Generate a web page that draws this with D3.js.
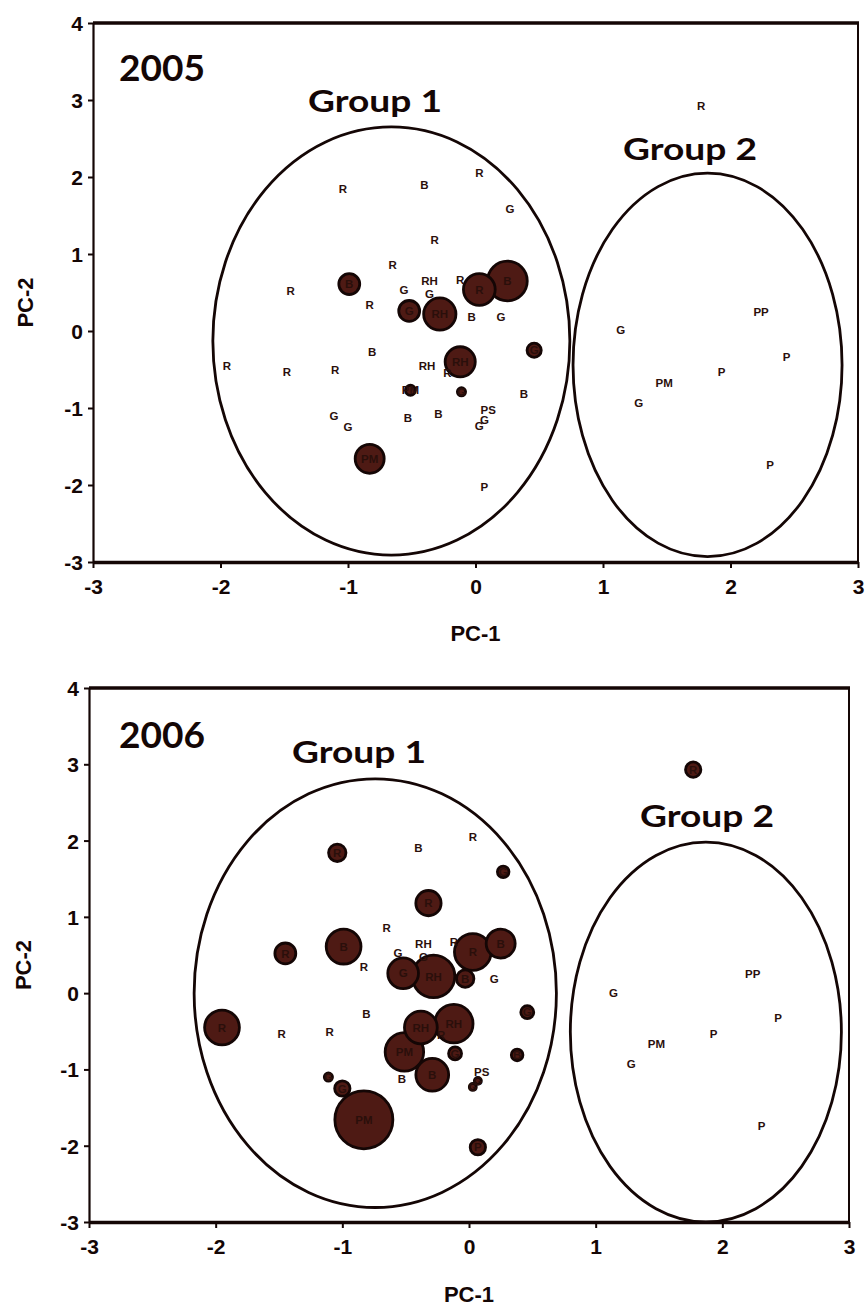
<!DOCTYPE html>
<html>
<head>
<meta charset="utf-8">
<script src="https://cdn.jsdelivr.net/npm/d3@7"></script>
<style>
  html, body { margin: 0; padding: 0; background: #ffffff; }
  svg { display: block; }
</style>
</head>
<body>
<svg id="chart" width="868" height="1307"></svg>
<script>
// ---------------- DATA ----------------
// Site labels and PCA scores (same ordination in both years)
const siteLabels = ["R","R","B","R","G","R","R","R","B","G","RH","G","R","G","RH","R","R","B","B","G","B","G",
                    "R","R","R","RH","RH","R","PM","G","B","G","G","B","B","PS","G","G","PM","P",
                    "G","PP","P","P","PM","G","P"];
const pc1 = [1.77,-1.04,-0.40,0.03,0.27,-0.32,-0.65,-1.45,-0.99,-0.56,-0.36,-0.36,-0.83,-0.52,-0.28,-0.12,0.03,0.25,-0.03,0.20,-0.81,0.46,
             -1.95,-1.48,-1.10,-0.38,-0.12,-0.22,-0.51,-0.11,0.38,-1.11,-1.00,-0.53,-0.29,0.10,0.07,0.03,-0.83,0.07,
             1.14,2.24,2.44,1.93,1.48,1.28,2.31];
const pc2 = [2.93,1.84,1.90,2.05,1.59,1.18,0.86,0.52,0.61,0.53,0.65,0.48,0.34,0.26,0.22,0.67,0.54,0.65,0.19,0.19,-0.27,-0.25,
             -0.45,-0.53,-0.51,-0.45,-0.40,-0.55,-0.77,-0.79,-0.81,-1.10,-1.25,-1.13,-1.07,-1.03,-1.15,-1.23,-1.66,-2.02,
             0.01,0.25,-0.33,-0.53,-0.67,-0.93,-1.74];
// Bubble values per year (0 = no bubble)
const value2005 = [0,0,0,0,0,0,0,0,13,0,0,0,0,13,31,0,30,47,0,0,0,6,
                   0,0,0,0,27,0,3,2,0,0,0,0,0,0,0,0,25,0,
                   0,0,0,0,0,0,0];
const value2006 = [7,9,0,0,4,19,0,13,36,0,0,0,0,28,54,0,40,25,9,0,0,5,
                   36,0,0,32,44,0,44,5,4,2,7,0,32,0,1,1,100,7,
                   0,0,0,0,0,0,0];
// Group ellipses (centre and semi-axes in PC units)
const groupNames = ["Group 1","Group 2"];
const ell2005 = { cx: [-0.66, 1.82], cy: [-0.13, -0.44], rx: [1.40, 1.055], ry: [2.78, 2.49] };
const ell2006 = { cx: [-0.74, 1.87], cy: [0.00, -0.51], rx: [1.43, 1.07], ry: [2.81, 2.49] };
const years = ["2005","2006"];
const xTicks = [-3,-2,-1,0,1,2,3];
const yTicks = [-3,-2,-1,0,1,2,3,4];

// ---------------- DRAW ----------------
const svg = d3.select("#chart");
const ink = "#140605";
const bubbleFill = "#4e1a14";

const panels = [
  { year: years[0], values: value2005, ell: ell2005,
    x0: 93, x1: 858, yTop: 23, yBot: 562,
    yearPos: [119, 81], groupPos: [[375, 112], [690, 160]], pc1Y: 641, pc2X: 33 },
  { year: years[1], values: value2006, ell: ell2006,
    x0: 89, x1: 849, yTop: 688, yBot: 1222,
    yearPos: [119, 748], groupPos: [[359, 763], [707, 827]], pc1Y: 1302, pc2X: 31 }
];

const rScale = d3.scaleSqrt().domain([0, 100]).range([0, 29]);

panels.forEach(p => {
  const x = d3.scaleLinear().domain([-3, 3]).range([p.x0, p.x1]);
  const y = d3.scaleLinear().domain([-3, 4]).range([p.yBot, p.yTop]);
  const g = svg.append("g");

  // frame
  g.append("line").attr("x1", p.x0).attr("x2", p.x1 + 1).attr("y1", p.yTop).attr("y2", p.yTop)
    .attr("stroke", ink).attr("stroke-width", 3.4);
  g.append("line").attr("x1", p.x1).attr("x2", p.x1).attr("y1", p.yTop).attr("y2", p.yBot)
    .attr("stroke", ink).attr("stroke-width", 2);

  // axes
  const fmt = d => String(d);
  const xAxis = d3.axisBottom(x).tickValues(xTicks).tickFormat(fmt).tickSize(6).tickSizeOuter(0);
  const yAxis = d3.axisLeft(y).tickValues(yTicks).tickFormat(fmt).tickSize(5).tickSizeOuter(0);
  const gx = g.append("g").attr("transform", `translate(0,${p.yBot})`).call(xAxis);
  const gy = g.append("g").attr("transform", `translate(${p.x0},0)`).call(yAxis);
  gx.select(".domain").attr("stroke", ink).attr("stroke-width", 3.4);
  gy.select(".domain").attr("stroke", ink).attr("stroke-width", 2.2);
  [gx, gy].forEach(a => {
    a.selectAll(".tick line").attr("stroke", ink).attr("stroke-width", 2);
    a.selectAll(".tick text").attr("fill", ink)
      .style("font-family", "'Liberation Sans', Arial, sans-serif")
      .style("font-weight", "bold").style("font-size", "21px");
  });
  gx.selectAll(".tick text").attr("dy", "1.1em");
  gy.selectAll(".tick text").attr("x", -10).attr("dy", "0.36em");

  // axis titles
  g.append("text").attr("x", (p.x0 + p.x1) / 2).attr("y", p.pc1Y)
    .attr("text-anchor", "middle").attr("fill", ink)
    .style("font-family", "'Liberation Sans', Arial, sans-serif")
    .style("font-weight", "bold").style("font-size", "22px").text("PC-1");
  g.append("text").attr("transform", `translate(${p.pc2X},${(p.yTop + p.yBot) / 2 + 10}) rotate(-90)`)
    .attr("text-anchor", "middle").attr("fill", ink)
    .style("font-family", "'Liberation Sans', Arial, sans-serif")
    .style("font-weight", "bold").style("font-size", "22px").text("PC-2");

  // group ellipses
  groupNames.forEach((name, i) => {
    g.append("ellipse")
      .attr("cx", x(p.ell.cx[i])).attr("cy", y(p.ell.cy[i]))
      .attr("rx", x(p.ell.rx[i]) - x(0)).attr("ry", y(0) - y(p.ell.ry[i]))
      .attr("fill", "none").attr("stroke", ink).attr("stroke-width", 2.8);
    g.append("text").attr("x", p.groupPos[i][0]).attr("y", p.groupPos[i][1])
      .attr("text-anchor", "middle").attr("fill", ink)
      .style("font-family", "Lato, 'Open Sans', sans-serif").style("font-weight", "bold").style("font-size", "31px")
      .attr("textLength", 134).attr("lengthAdjust", "spacingAndGlyphs")
      .text(name);
  });

  // year label
  g.append("text").attr("x", p.yearPos[0]).attr("y", p.yearPos[1]).attr("fill", ink)
    .style("font-family", "Lato, 'Open Sans', sans-serif").style("font-weight", "bold").style("font-size", "37px")
    .attr("textLength", 86).attr("lengthAdjust", "spacingAndGlyphs")
    .text(p.year);

  // bubbles
  const pts = siteLabels.map((lab, i) => ({ lab, a: pc1[i], b: pc2[i], v: p.values[i] }));
  g.append("g").selectAll("circle")
    .data(pts.filter(d => d.v > 0).sort((m, n) => n.v - m.v))
    .join("circle")
    .attr("cx", d => x(d.a)).attr("cy", d => y(d.b))
    .attr("r", d => Math.max(rScale(d.v), 3.5))
    .attr("fill", bubbleFill).attr("stroke", ink).attr("stroke-width", 2.8);

  // site labels
  g.append("g").selectAll("text")
    .data(pts).join("text")
    .attr("x", d => x(d.a)).attr("y", d => y(d.b)).attr("dy", "0.36em")
    .attr("text-anchor", "middle").attr("fill", "#2a0f0b")
    .style("font-family", "'Liberation Sans', Arial, sans-serif")
    .style("font-weight", "bold").style("font-size", "11.5px")
    .text(d => d.lab);
});
</script>
</body>
</html>
